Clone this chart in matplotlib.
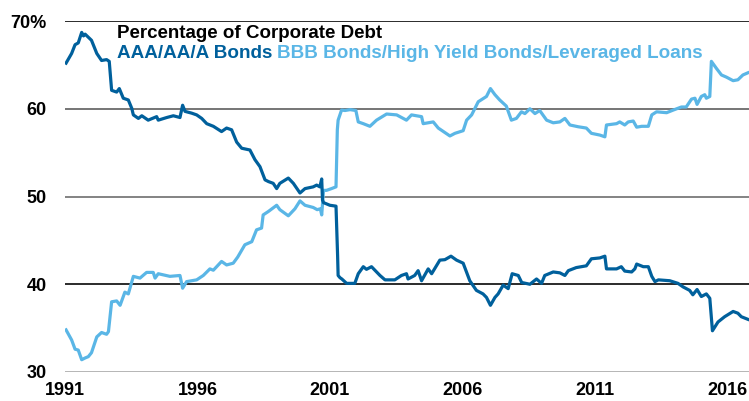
import matplotlib.pyplot as plt

plt.rcParams['font.family'] = ['Liberation Sans', 'DejaVu Sans']

# share of corporate debt, %
high_grade_years = [
    1991.04, 1991.25, 1991.38, 1991.50, 1991.63, 1991.70, 1991.76, 1992.00, 1992.20, 1992.38,
    1992.57, 1992.67, 1992.76, 1992.95, 1993.05, 1993.20, 1993.39, 1993.52, 1993.58, 1993.77,
    1993.90, 1994.14, 1994.46, 1994.52, 1994.84, 1995.09, 1995.34, 1995.44, 1995.53, 1995.78,
    1995.97, 1996.16, 1996.35, 1996.60, 1996.91, 1997.10, 1997.29, 1997.48, 1997.67, 1997.98,
    1998.17, 1998.36, 1998.55, 1998.68, 1998.86, 1998.99, 1999.11, 1999.43, 1999.62, 1999.87,
    2000.06, 2000.37, 2000.50, 2000.62, 2000.69, 2000.72, 2000.76, 2001.00, 2001.23, 2001.29,
    2001.31, 2001.38, 2001.45, 2001.63, 2001.94, 2002.07, 2002.26, 2002.38, 2002.57, 2002.89,
    2003.08, 2003.45, 2003.70, 2003.89, 2003.95, 2004.20, 2004.33, 2004.46, 2004.71, 2004.84,
    2005.15, 2005.34, 2005.57, 2005.78, 2006.03, 2006.28, 2006.53, 2006.78, 2006.91, 2007.06,
    2007.23, 2007.35, 2007.54, 2007.73, 2007.88, 2008.11, 2008.24, 2008.55, 2008.80, 2008.99,
    2009.11, 2009.43, 2009.68, 2009.87, 2010.00, 2010.30, 2010.68, 2010.87, 2011.19, 2011.38,
    2011.44, 2011.82, 2012.00, 2012.13, 2012.39, 2012.51, 2012.58, 2012.83, 2013.02, 2013.15,
    2013.27, 2013.40, 2013.83, 2014.14, 2014.33, 2014.58, 2014.70, 2014.86, 2015.02, 2015.21,
    2015.34, 2015.44, 2015.65, 2015.90, 2016.22, 2016.40, 2016.53, 2016.78,
]
high_grade = [
    65.2, 66.3, 67.3, 67.5, 68.7, 68.3, 68.5, 67.8, 66.3, 65.5,
    65.6, 65.4, 62.1, 61.9, 62.3, 61.2, 61.0, 60.05, 59.3, 58.9,
    59.2, 58.7, 59.1, 58.7, 59.0, 59.2, 59.0, 60.4, 59.7, 59.5,
    59.3, 58.9, 58.3, 58.0, 57.4, 57.8, 57.6, 56.2, 55.5, 55.3,
    54.2, 53.4, 51.9, 51.7, 51.5, 50.9, 51.5, 52.1, 51.5, 50.4,
    50.9, 51.1, 51.3, 51.1, 52.0, 49.6, 49.3, 49.0, 48.9, 43.3,
    41.0, 40.75, 40.6, 40.1, 40.1, 41.2, 42.0, 41.7, 42.0, 41.0,
    40.5, 40.5, 41.0, 41.2, 40.6, 41.0, 41.55, 40.4, 41.75, 41.2,
    42.75, 42.8, 43.2, 42.75, 42.4, 40.4, 39.3, 38.9, 38.5, 37.6,
    38.5, 38.9, 39.9, 39.5, 41.2, 41.0, 40.2, 40.0, 40.6, 40.1,
    41.0, 41.4, 41.3, 41.0, 41.55, 41.9, 42.1, 42.9, 43.0, 43.2,
    41.75, 41.75, 42.0, 41.5, 41.4, 41.75, 42.3, 42.0, 42.0, 40.9,
    40.3, 40.5, 40.4, 40.1, 39.7, 39.3, 38.8, 39.4, 38.6, 38.9,
    38.4, 34.7, 35.7, 36.3, 36.9, 36.7, 36.3, 36.0,
]

low_grade_years = [
    1991.04, 1991.25, 1991.38, 1991.50, 1991.63, 1991.76, 1991.88, 1992.00, 1992.20, 1992.38,
    1992.57, 1992.64, 1992.76, 1992.95, 1993.08, 1993.26, 1993.39, 1993.58, 1993.83, 1994.08,
    1994.33, 1994.40, 1994.52, 1994.96, 1995.34, 1995.44, 1995.59, 1995.97, 1996.22, 1996.47,
    1996.60, 1996.91, 1997.10, 1997.35, 1997.52, 1997.79, 1998.05, 1998.23, 1998.42, 1998.48,
    1998.68, 1998.99, 1999.11, 1999.43, 1999.68, 1999.87, 2000.06, 2000.37, 2000.52, 2000.64,
    2000.69, 2000.76, 2000.87, 2001.06, 2001.23, 2001.28, 2001.31, 2001.44, 2001.57, 2001.76,
    2001.98, 2002.07, 2002.26, 2002.51, 2002.76, 2003.14, 2003.52, 2003.89, 2004.08, 2004.46,
    2004.52, 2004.90, 2005.09, 2005.53, 2005.72, 2006.03, 2006.16, 2006.35, 2006.60, 2006.91,
    2007.06, 2007.23, 2007.41, 2007.66, 2007.85, 2008.04, 2008.23, 2008.36, 2008.55, 2008.74,
    2008.92, 2009.18, 2009.43, 2009.68, 2009.87, 2010.06, 2010.37, 2010.68, 2010.87, 2011.19,
    2011.38, 2011.44, 2011.82, 2011.94, 2012.13, 2012.26, 2012.45, 2012.58, 2012.77, 2013.02,
    2013.15, 2013.33, 2013.71, 2013.96, 2014.27, 2014.45, 2014.65, 2014.78, 2014.86, 2015.02,
    2015.15, 2015.21, 2015.34, 2015.40, 2015.59, 2015.78, 2015.97, 2016.22, 2016.40, 2016.59,
    2016.78,
]
low_grade = [
    34.8, 33.65, 32.6, 32.5, 31.4, 31.6, 31.75, 32.2, 34.0, 34.5,
    34.3, 34.6, 38.0, 38.1, 37.6, 39.1, 38.9, 40.9, 40.7, 41.35,
    41.35, 40.7, 41.2, 40.9, 41.0, 39.55, 40.3, 40.5, 41.0, 41.75,
    41.6, 42.6, 42.2, 42.4, 43.1, 44.5, 44.85, 46.2, 46.4, 47.9,
    48.3, 49.0, 48.5, 47.8, 48.6, 49.5, 49.0, 48.75, 48.5, 48.6,
    47.9, 50.7, 50.7, 50.9, 51.1, 57.6, 58.7, 59.85, 59.8, 59.9,
    59.8, 58.5, 58.3, 58.0, 58.7, 59.4, 59.3, 58.7, 59.3, 59.1,
    58.3, 58.5, 57.8, 56.9, 57.2, 57.5, 58.7, 59.3, 60.8, 61.4,
    62.3, 61.6, 61.0, 60.3, 58.7, 58.9, 59.65, 59.45, 60.0, 59.45,
    59.8, 58.7, 58.4, 58.5, 58.9, 58.15, 57.95, 57.8, 57.2, 57.0,
    56.8, 58.15, 58.3, 58.5, 58.15, 58.5, 58.6, 57.9, 58.0, 58.0,
    59.3, 59.65, 59.55, 59.85, 60.2, 60.2, 61.1, 61.2, 60.5, 61.4,
    61.6, 61.2, 61.4, 65.4, 64.6, 63.85, 63.6, 63.2, 63.3, 63.85,
    64.1,
]

y_ticks = [30, 40, 50, 60, 70]
y_labels = ['30', '40', '50', '60', '70%']
grid_colors = ['#b0b0b0', '#1a1a1a', '#7a7a7a', '#6a6a6a', '#1a1a1a']
x_ticks = [1991, 1996, 2001, 2006, 2011, 2016]

dark_blue = '#00609c'
light_blue = '#5ab6e6'

fig = plt.figure(figsize=(7.49, 4.01), dpi=100)
ax = fig.add_axes([65 / 749, 1 - 372 / 401, 1 - 65 / 749, (372 - 21) / 401])

for level, c in zip(y_ticks, grid_colors):
    ax.axhline(level, color=c, lw=1.3, zorder=1)

ax.plot(low_grade_years, low_grade, color=light_blue, lw=2.3, zorder=3)
ax.plot(high_grade_years, high_grade, color=dark_blue, lw=2.3, zorder=4)

ax.set_xlim(1991, 2016.82)
ax.set_ylim(30, 70)
ax.set_yticks(y_ticks)
ax.set_yticklabels(y_labels)
ax.set_xticks(x_ticks)
ax.set_xticklabels([str(y) for y in x_ticks])
ax.tick_params(axis='y', length=0, pad=13, labelsize=13)
ax.tick_params(axis='x', length=0, pad=7.5, labelsize=13)
for lbl in ax.get_xticklabels() + ax.get_yticklabels():
    lbl.set_fontweight('bold')
for s in ax.spines.values():
    s.set_visible(False)

fig.text(117 / 749, 1 - 33 / 401, 'Percentage of Corporate Debt', fontsize=13.5,
         fontweight='bold', color='black', va='center', ha='left')
t1 = fig.text(117 / 749, 1 - 54 / 401, 'AAA/AA/A Bonds', fontsize=13.6,
              fontweight='bold', color=dark_blue, va='center', ha='left')
ax.annotate('BBB Bonds/High Yield Bonds/Leveraged Loans', xy=(1, 0.5), xycoords=t1,
            xytext=(3, 0), textcoords='offset points', fontsize=13.6,
            fontweight='bold', color=light_blue, va='center', ha='left')

fig.savefig('out.png', dpi=100)
